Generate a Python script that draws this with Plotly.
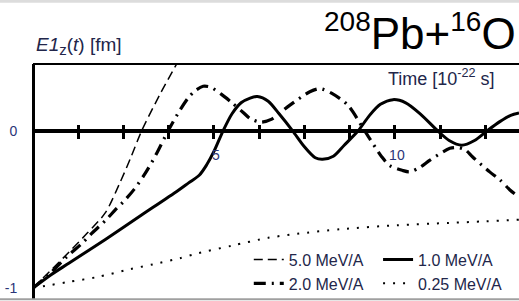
import plotly.graph_objects as go

# ---- data ----
t_50 = [0, 0.5, 1.0, 1.5, 2.0, 2.4, 2.7, 3.0, 3.5, 4.0]
v_50 = [-1.0, -0.885, -0.77, -0.65, -0.52, -0.33, -0.17, 0.0, 0.23, 0.44]

t_20 = [0, 0.5, 0.94, 1.38, 1.63, 2.0, 2.32, 2.5, 2.8, 3.1, 3.4, 3.73, 4.0, 4.3, 4.5,
        4.7, 4.9, 5.2, 5.5, 5.8, 6.0, 6.3, 6.6, 6.82, 7.1, 7.65, 7.93, 8.26, 8.7, 9.17,
        9.64, 9.86, 10.2, 10.41, 10.7, 10.97, 11.52, 11.75, 11.95, 12.15, 12.62, 12.9,
        13.18, 13.43]
v_20 = [-1.0, -0.9, -0.8, -0.71, -0.65, -0.57, -0.49, -0.45, -0.37, -0.27, -0.15, 0.0,
        0.11, 0.215, 0.26, 0.285, 0.28, 0.235, 0.18, 0.12, 0.08, 0.057, 0.076, 0.115, 0.165,
        0.25, 0.27, 0.24, 0.165, 0.0, -0.165, -0.22, -0.25, -0.26, -0.23, -0.185, -0.11,
        -0.105, -0.12, -0.165, -0.26, -0.31, -0.375, -0.42]

t_10 = [0, 0.5, 1.0, 2.0, 3.0, 4.0, 4.3, 4.6, 4.8, 5.0, 5.25, 5.5, 5.75, 6.0, 6.2, 6.5,
        6.8, 7.18, 7.5, 7.8, 8.0, 8.3, 8.6, 8.98, 9.3, 9.6, 9.95, 10.3, 10.7, 11.19, 11.5,
        11.85, 12.2, 12.54, 12.9, 13.2, 13.43]
v_10 = [-1.0, -0.915, -0.84, -0.69, -0.535, -0.38, -0.33, -0.28, -0.215, -0.13, 0.0,
        0.11, 0.18, 0.21, 0.22, 0.19, 0.11, 0.0, -0.1, -0.17, -0.18, -0.16, -0.09, 0.0,
        0.1, 0.17, 0.2, 0.18, 0.11, 0.0, -0.06, -0.09, -0.06, 0.0, 0.06, 0.1, 0.115]

t_025 = [0, 0.5, 1.0, 1.77, 2.68, 3.5, 4.06, 4.53, 5.5, 6.5, 7.29, 8.5, 10.06, 11.5, 12.5, 13.43]
v_025 = [-1.0, -0.98, -0.96, -0.93, -0.88, -0.84, -0.81, -0.78, -0.73, -0.68, -0.655,
         -0.625, -0.6, -0.585, -0.575, -0.565]

x_tickvals = [1.25, 2.5, 3.75, 5.0, 6.25, 7.5, 8.75, 10.0, 11.25, 12.5]
x_ticktext = ["", "", "", "5", "", "", "", "10", "", ""]
y_tickvals = [0, -1]
y_ticktext = ["0", "-1"]

series_labels = ["5.0 MeV/A", "2.0 MeV/A", "1.0 MeV/A", "0.25 MeV/A"]

# ---- styling ----
FONT = "Liberation Sans, Arial, sans-serif"
TXT = "#22264a"
XMIN, XMAX = 0.0, 13.43
YMIN, YMAX = -1.076, 0.427
zero_pos = (0 - YMIN) / (YMAX - YMIN)

fig = go.Figure()
fig.add_trace(go.Scatter(x=t_50, y=v_50, mode="lines", name=series_labels[0],
                         line=dict(color="black", width=1.5, dash="9px,5px",
                                   shape="spline", smoothing=0.8),
                         legend="legend"))
fig.add_trace(go.Scatter(x=t_20, y=v_20, mode="lines", name=series_labels[1],
                         line=dict(color="black", width=3.2, dash="12px,6px,2px,6px",
                                   shape="spline", smoothing=0.8),
                         legend="legend"))
fig.add_trace(go.Scatter(x=t_10, y=v_10, mode="lines", name=series_labels[2],
                         line=dict(color="black", width=3, shape="spline", smoothing=0.8),
                         legend="legend2"))
fig.add_trace(go.Scatter(x=t_025, y=v_025, mode="lines", name=series_labels[3],
                         line=dict(color="black", width=2, dash="2px,8px",
                                   shape="spline", smoothing=0.8),
                         legend="legend2"))
# invisible carriers for the helper axes (tick crossing, top frame, end stubs)
fig.add_trace(go.Scatter(x=[XMIN, XMAX], y=[YMIN, YMIN], mode="lines",
                         line=dict(width=0), showlegend=False, hoverinfo="skip",
                         xaxis="x2", yaxis="y"))
fig.add_trace(go.Scatter(x=[XMIN, XMAX], y=[YMIN, YMIN], mode="lines",
                         line=dict(width=0), showlegend=False, hoverinfo="skip",
                         xaxis="x3", yaxis="y2"))

fig.update_layout(
    width=519, height=301,
    margin=dict(l=33, r=0, t=64, b=1, autoexpand=False),
    paper_bgcolor="white", plot_bgcolor="white",
    font=dict(family=FONT, color=TXT),
    xaxis=dict(range=[XMIN, XMAX], anchor="free", position=zero_pos, automargin=False,
               showgrid=False, zeroline=False,
               showline=True, linewidth=3.5, linecolor="black",
               tickmode="array", tickvals=x_tickvals, ticktext=x_ticktext,
               ticks="outside", ticklen=6, tickwidth=3, tickcolor="black",
               ticklabelstandoff=4, ticklabelshift=2,
               tickfont=dict(size=14, color="#2b3578", family=FONT)),
    xaxis2=dict(range=[XMIN, XMAX], overlaying="x", anchor="free", position=zero_pos,
                automargin=False,
                showgrid=False, zeroline=False, showline=False,
                tickmode="array", tickvals=x_tickvals, showticklabels=False,
                ticks="inside", ticklen=6, tickwidth=3, tickcolor="black"),
    xaxis3=dict(range=[XMIN, XMAX], overlaying="x", side="top", anchor="free",
                position=1, automargin=False,
                showgrid=False, zeroline=False, showticklabels=False, ticks="",
                showline=True, linewidth=1.5, linecolor="black"),
    yaxis=dict(range=[YMIN, YMAX], anchor="free", position=0, automargin=False,
               showgrid=False, zeroline=False,
               showline=True, linewidth=3, linecolor="black",
               tickmode="array", tickvals=y_tickvals, ticktext=y_ticktext,
               ticks="", ticklabelstandoff=12,
               tickfont=dict(size=14, color="#2b3578", family=FONT)),
    yaxis2=dict(range=[YMIN, YMAX], overlaying="y", anchor="free", position=0,
                automargin=False, showgrid=False, zeroline=False, showline=False,
                tickmode="array", tickvals=[YMIN + 0.006, YMAX - 0.004],
                showticklabels=False, ticks="inside", ticklen=6, tickwidth=3,
                tickcolor="black"),
    legend=dict(x=0.444, y=0.243, xanchor="left", yanchor="top",
                bgcolor="rgba(0,0,0,0)", borderwidth=0, tracegroupgap=0,
                font=dict(size=16, color=TXT, family=FONT)),
    legend2=dict(x=0.71, y=0.243, xanchor="left", yanchor="top",
                 bgcolor="rgba(0,0,0,0)", borderwidth=0, tracegroupgap=0,
                 font=dict(size=16, color=TXT, family=FONT)),
    showlegend=True,
)

# page edge lines of the scanned figure
fig.add_shape(type="line", xref="paper", yref="paper", x0=-0.07, x1=1, y0=1.266, y1=1.266,
              line=dict(color="#dcdcdc", width=3))
fig.add_shape(type="line", xref="paper", yref="paper", x0=-0.07, x1=1, y0=0.003, y1=0.003,
              line=dict(color="#a0a0a0", width=2))

# texts
fig.add_annotation(xref="paper", yref="paper", x=0.002, y=1.076, xanchor="left",
                   yanchor="middle", showarrow=False,
                   text="<i>E1</i><sub><span style='font-size:15px'>z</span></sub>(<i>t</i>) [fm]",
                   font=dict(size=19, color=TXT, family=FONT))
fig.add_annotation(xref="paper", yref="paper", x=0.998, y=1.015, xanchor="right",
                   yanchor="bottom", showarrow=False,
                   text="<sup><span style='font-size:28px'>208</span></sup>Pb+"
                        "<sup><span style='font-size:28px'>16</span></sup>O",
                   font=dict(size=44, color="black", family=FONT))
fig.add_annotation(xref="paper", yref="paper", x=0.955, y=0.941, xanchor="right",
                   yanchor="middle", showarrow=False,
                   text="Time [10<sup>-22</sup> s]",
                   font=dict(size=18, color=TXT, family=FONT))

fig.write_html("out.html", config={"displayModeBar": False},
               post_script="document.body.style.margin='0';")
